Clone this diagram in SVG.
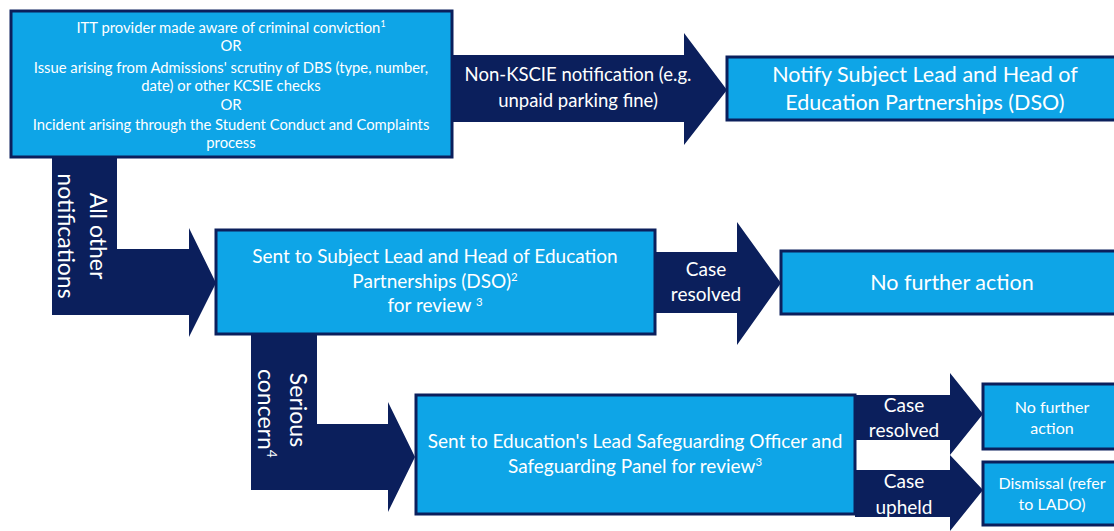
<svg xmlns="http://www.w3.org/2000/svg" width="1114" height="531" viewBox="0 0 1114 531">
<style>
.box{fill:#0ea5e7;stroke:#0b1f5c;stroke-width:3}
.arr{fill:#0b1f5c}
text{font-family:Lato,"Open Sans","Liberation Sans",sans-serif;fill:#fff;text-anchor:middle}
.s13{font-size:14.8px}
.s17{font-size:19px}
.sk{font-size:18.5px}
.s21{font-size:21.5px}
.sv{font-size:23px}
.s14{font-size:16px}
.sup{font-size:0.6em}
</style>
<rect width="1114" height="531" fill="#fff"/>
<g id="connectors">
<polygon class="arr" points="452,55 684,55 684,33 727,90 684,145 684,122 452,122"/>
<polygon class="arr" points="52,158 117,158 117,249 189,249 189,228 216,283 189,337 189,315 52,315"/>
<polygon class="arr" points="655,252 737,252 737,222 781,283 737,345 737,313 655,313"/>
<polygon class="arr" points="251,334 317,334 317,424 388,424 388,402 415,457 388,512 388,490 251,490"/>
<polygon class="arr" points="855,395 950,395 950,373 983,414 950,455 950,440 855,440"/>
<polygon class="arr" points="855,470 950,470 950,455 983,490 950,531 950,517 855,517"/>
<text class="sk" x="578" y="81">Non-KSCIE notification (e.g.</text>
<text class="sk" x="578" y="107">unpaid parking fine)</text>
<g transform="translate(86,236) rotate(90)">
<text class="sv" x="0" y="-4">All other</text>
<text class="sv" x="0" y="28">notifications</text>
</g>
<text class="s17" x="706" y="276">Case</text>
<text class="s17" x="706" y="301">resolved</text>
<g transform="translate(284,410) rotate(90)">
<text class="sv" x="0" y="-6">Serious</text>
<text class="sv" x="-41" y="26" style="text-anchor:start">concern<tspan class="sup" dy="-9">4</tspan></text>
</g>
<text class="s17" x="904" y="412">Case</text>
<text class="s17" x="904" y="437">resolved</text>
<text class="s17" x="904" y="488">Case</text>
<text class="s17" x="904" y="514">upheld</text>
</g>
<g id="n1">
<rect class="box" x="11" y="11" width="441" height="146"/>
<text class="s13" x="231" y="33">ITT provider made aware of criminal conviction<tspan class="sup" dy="-6">1</tspan></text>
<text class="s13" x="231" y="51">OR</text>
<text class="s13" x="231" y="73">Issue arising from Admissions' scrutiny of DBS (type, number,</text>
<text class="s13" x="231" y="91">date) or other KCSIE checks</text>
<text class="s13" x="231" y="110">OR</text>
<text class="s13" x="231" y="130">Incident arising through the Student Conduct and Complaints</text>
<text class="s13" x="231" y="148">process</text>
</g>
<g id="n2">
<rect class="box" x="727" y="57" width="392" height="63"/>
<text class="s21" x="925" y="82">Notify Subject Lead and Head of</text>
<text class="s21" x="925" y="110">Education Partnerships (DSO)</text>
</g>
<g id="n3">
<rect class="box" x="216" y="230" width="439" height="104"/>
<text class="s17" x="435" y="263">Sent to Subject Lead and Head of Education</text>
<text class="s17" x="435" y="288">Partnerships (DSO)<tspan class="sup" dy="-7">2</tspan></text>
<text class="s17" x="435" y="312">for review <tspan class="sup" dy="-6">3</tspan></text>
</g>
<g id="n4">
<rect class="box" x="781" y="251" width="338" height="63"/>
<text class="s21" x="952" y="290">No further action</text>
</g>
<g id="n5">
<rect class="box" x="416" y="395" width="439" height="119"/>
<text class="s17" x="635" y="448">Sent to Education's Lead Safeguarding Officer and</text>
<text class="s17" x="635" y="473">Safeguarding Panel for review<tspan class="sup" dy="-7">3</tspan></text>
</g>
<g id="n6">
<rect class="box" x="983" y="384" width="136" height="65"/>
<text class="s14" x="1052" y="413">No further</text>
<text class="s14" x="1052" y="434">action</text>
</g>
<g id="n7">
<rect class="box" x="983" y="462" width="136" height="63"/>
<text class="s14" x="1052" y="489">Dismissal (refer</text>
<text class="s14" x="1052" y="510">to LADO)</text>
</g>
</svg>
